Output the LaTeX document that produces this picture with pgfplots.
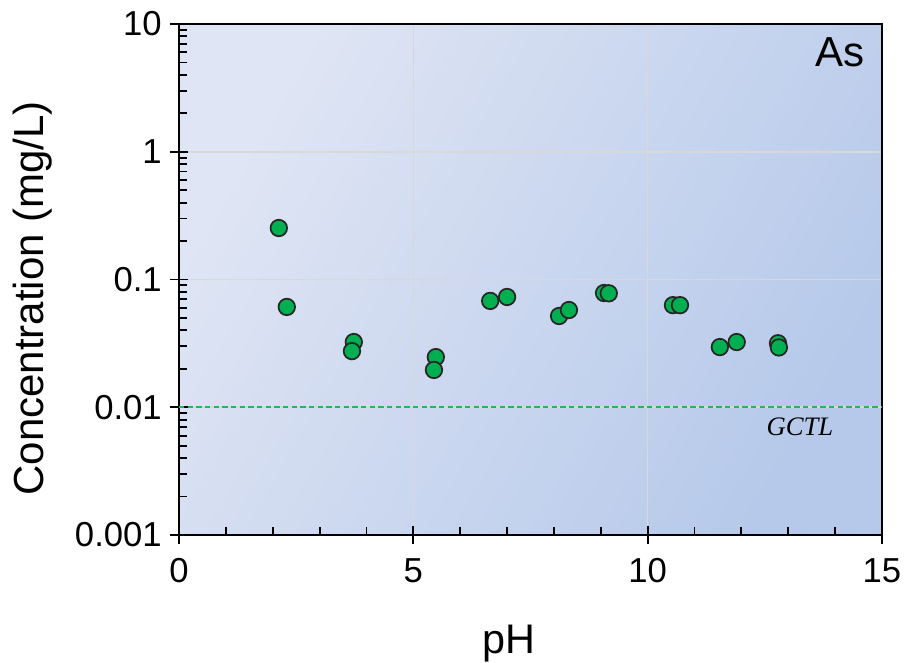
\documentclass[border=0pt]{standalone}
\usepackage{pgfplots}
\pgfplotsset{compat=1.18}
\usepackage{fontspec}
\setmainfont{Liberation Sans}
\newfontfamily\serifit{Liberation Serif}
\definecolor{bgA}{HTML}{DFE5F4}
\definecolor{bgB}{HTML}{B6C9EA}
\definecolor{ptgreen}{HTML}{00B050}
\definecolor{dashgreen}{HTML}{22B85A}
\definecolor{gridc}{HTML}{D8D8D8}
\begin{document}
\begin{tikzpicture}
\useasboundingbox (-134.25pt,-95.25pt) rectangle (543.75pt,401.25pt);
\begin{axis}[
  at={(0,0)}, anchor=south west,
  scale only axis,
  width=527.25pt, height=383.25pt,
  xmin=0, xmax=15,
  ymode=log, ymin=0.001, ymax=10,
  xtick={0,5,10,15},
  minor x tick num=4,
  ytick={0.001,0.01,0.1,1,10},
  yticklabels={0.001,0.01,0.1,1,10},
  tick pos=left,
  tick align=inside,
  major tick length=13.5pt,
  minor tick length=6pt,
  every major x tick/.style={yshift=-6.75pt},
  every major y tick/.style={xshift=-6.75pt},
  every tick/.style={black, line width=1.4pt},
  axis line style={black, line width=1.5pt},
  grid=major,
  major grid style={gridc, line width=1.2pt},
  minor grid style={draw=none},
  axis background/.style={left color=bgA, right color=bgB, shading angle=60},
  /pgf/number format/assume math mode=true,
  tick label style={font=\fontsize{26}{29}\selectfont},
  xticklabel style={anchor=base, yshift=-35.25pt},
  yticklabel style={anchor=east, inner sep=0pt, xshift=-12.75pt},
  xlabel={pH},
  ylabel={Concentration (mg/L)},
  every axis x label/.style={at={([xshift=247.5pt, yshift=-88.5pt]axis description cs:0,0)}, anchor=base, font=\fontsize{31}{34}\selectfont},
  every axis y label/.style={at={([xshift=-110pt, yshift=-14pt]axis description cs:0,0.5)}, anchor=center, rotate=90, font=\fontsize{31.5}{34}\selectfont},
  clip=false,
]
\addplot[draw=dashgreen, line width=1.3pt, dash pattern=on 4pt off 2.5pt, forget plot] coordinates {(0,0.01) (15,0.01)};
\addplot[only marks, mark=*, mark size=6.2pt, mark options={fill=ptgreen, draw=black!85, line width=1.3pt}] coordinates {
(2.13,0.253)
(2.30,0.061)
(3.73,0.0324)
(3.69,0.0275)
(5.48,0.0247)
(5.44,0.0196)
(6.64,0.068)
(7.00,0.073)
(8.11,0.0518)
(8.32,0.0577)
(9.07,0.0784)
(9.17,0.078)
(10.54,0.063)
(10.69,0.063)
(11.54,0.0296)
(11.90,0.0324)
(12.78,0.0317)
(12.80,0.0294)
};
\node[anchor=base east, inner sep=0pt, font=\fontsize{31.5}{34}\selectfont] at (axis cs:14.64,4.61) {As};
\node[anchor=base, inner sep=0pt, font=\serifit\itshape\fontsize{20}{22}\selectfont] at (axis cs:13.25,0.00596) {GCTL};
\end{axis}
\end{tikzpicture}
\end{document}
